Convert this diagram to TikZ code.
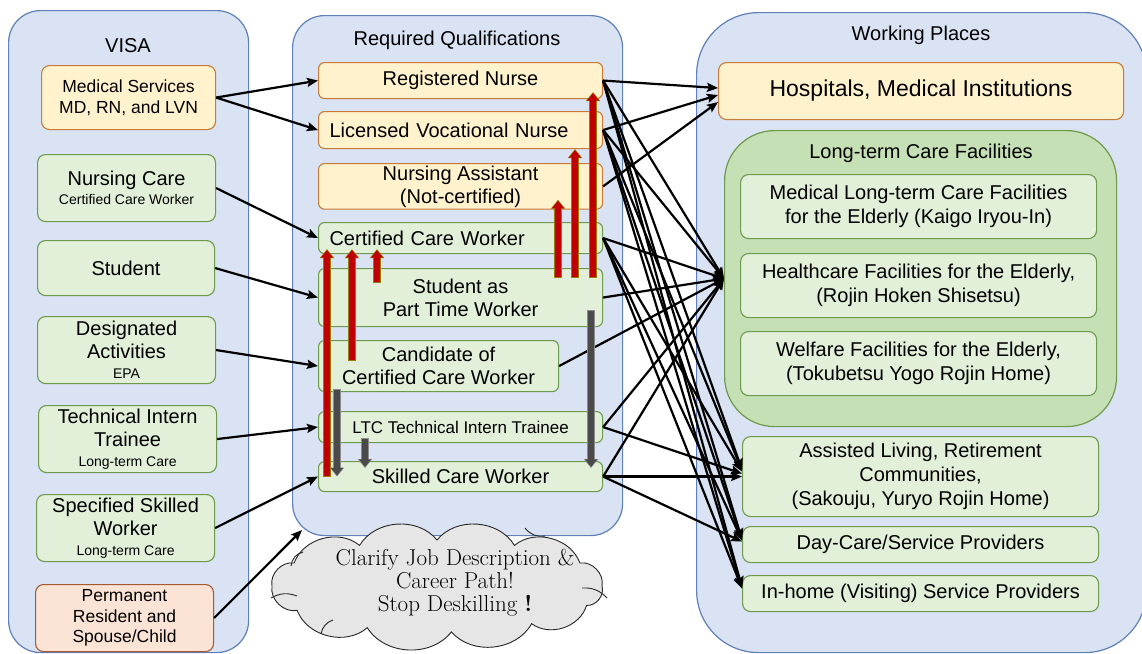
\documentclass[tikz,border=0pt]{standalone}
\usepackage{fontspec}
\newfontfamily\arial{Liberation Sans}
\usetikzlibrary{arrows.meta}

\definecolor{contfill}{HTML}{DAE3F3}
\definecolor{contline}{HTML}{5F80B8}
\definecolor{gfill}{HTML}{E2EFD9}
\definecolor{gline}{HTML}{6E9A4E}
\definecolor{ltcfill}{HTML}{C5E0B4}
\definecolor{ofill}{HTML}{FFF2CC}
\definecolor{oline}{HTML}{C97A36}
\definecolor{pfill}{HTML}{FBE4D5}
\definecolor{pline}{HTML}{A65A2E}
\definecolor{upred}{HTML}{C00000}
\definecolor{upedge}{HTML}{9C7C00}
\definecolor{downgray}{HTML}{4A4A4A}
\definecolor{downedge}{HTML}{8C8C8C}
\definecolor{cloudfill}{HTML}{E6E6E6}

\newcommand\smtxt{\fontsize{14}{16}\selectfont}
\newcommand\midtxt{\fontsize{17.5}{20.5}\selectfont}
% block arrows drawn as an edged band: outer colour first, fill colour on top
\newcommand\stepup[2]{\draw[upouter] #1 -- #2; \draw[upinner] #1 -- #2;}
\newcommand\stepdown[2]{\draw[dnouter] #1 -- #2; \draw[dninner] #1 -- #2;}

\begin{document}
\begin{tikzpicture}[x=1pt, y=-1pt,
  every node/.style={font=\arial\fontsize{20}{23}\selectfont},
  wh/.style 2 args={minimum width=#1pt, minimum height=#2pt},
  cont/.style={rectangle, rounded corners=32pt, fill=contfill, draw=contline,
    line width=1.2pt, anchor=north west, inner sep=0pt},
  box/.style={rectangle, rounded corners=8pt, line width=1.1pt, align=center,
    inner sep=2pt, anchor=north west},
  gbox/.style={box, fill=gfill, draw=gline},
  obox/.style={box, fill=ofill, draw=oline},
  pbox/.style={box, fill=pfill, draw=pline},
  title/.style={inner sep=0pt},
  link/.style={line width=2.2pt, -{Stealth[length=11pt,width=9pt,inset=2pt]}},
  upouter/.style={line width=7.5pt, draw=upedge, -{Triangle[length=9pt,width=14pt]}},
  upinner/.style={line width=5.5pt, draw=upred, shorten >=1.1pt, shorten <=1pt,
    -{Triangle[length=7.5pt,width=11.5pt]}},
  dnouter/.style={line width=7.5pt, draw=downedge, -{Triangle[length=9pt,width=14pt]}},
  dninner/.style={line width=5.5pt, draw=downgray, shorten >=1.1pt, shorten <=1pt,
    -{Triangle[length=7.5pt,width=11.5pt]}},
  cloudline/.style={fill=cloudfill, draw=black!85, line width=0.9pt},
  crease/.style={draw=black!85, line width=0.9pt},
]
\clip (0,0) rectangle (1142,653);

% ---------- column frames ----------
\node[cont, wh={240}{642}] (visa) at (8,10) {};
\node[cont, wh={330}{520}] (quals) at (292,15) {};
\node[cont, rounded corners=62pt, wh={450}{640}] (places) at (696,12) {};

\node[title] (visatitle) at (128,46) {VISA};
\node[title] (qualtitle) at (457,40) {Required Qualifications};
\node[title] (placetitle) at (921,35) {Working Places};

% ---------- visa categories ----------
\node[obox, wh={174}{64}, font=\arial\midtxt] (medical) at (41,65) {Medical Services\\MD, RN, and LVN};
\node[gbox, wh={178}{67}] (nursing) at (37,154) {Nursing Care\\[-4pt]{\smtxt Certified Care Worker}};
\node[gbox, wh={177}{55}] (student) at (37,240) {Student};
\node[gbox, wh={178}{67}] (desig) at (37,316) {Designated\\Activities\\[-3pt]{\smtxt EPA}};
\node[gbox, wh={178}{67}] (intern) at (38,405) {Technical Intern\\Trainee\\[-3pt]{\smtxt Long-term Care}};
\node[gbox, wh={178}{67}] (ssw) at (36,494) {Specified Skilled\\Worker\\[-3pt]{\smtxt Long-term Care}};
\node[pbox, wh={178}{67}, font=\arial\midtxt] (perm) at (35,584) {Permanent\\Resident and\\Spouse/Child};

% ---------- qualifications ----------
\node[obox, rounded corners=6pt, wh={284}{36}] (rn) at (318,62) {Registered Nurse};
\node[obox, rounded corners=6pt, wh={284}{37}, align=left, text width=262pt, inner xsep=11pt] (lvn) at (318,111) {Licensed Vocational Nurse};
\node[obox, rounded corners=6pt, wh={284}{44}] (na) at (318,163) {Nursing Assistant\\(Not-certified)};
\node[gbox, rounded corners=6pt, wh={284}{31}, align=left, text width=262pt, inner xsep=11pt] (ccw) at (318,222) {Certified Care Worker};
\node[gbox, rounded corners=6pt, wh={284}{58}] (sptw) at (318,268) {Student as\\Part Time Worker};
\node[gbox, rounded corners=6pt, wh={240}{51}] (cand) at (318,340) {Candidate of\\Certified Care Worker};
\node[gbox, rounded corners=6pt, wh={284}{31}, font=\arial\fontsize{17}{20}\selectfont] (tit) at (318,411) {LTC Technical Intern Trainee};
\node[gbox, rounded corners=6pt, wh={284}{30}] (skilled) at (318,461) {Skilled Care Worker};

% ---------- working places ----------
\node[obox, wh={405}{57}, font=\arial\fontsize{23}{26}\selectfont] (hosp) at (718,62) {Hospitals, Medical Institutions};
\node[cont, rounded corners=50pt, fill=ltcfill, draw=gline, wh={392}{296}] (ltc) at (724,130) {};
\node[title] (ltctitle) at (921,153) {Long-term Care Facilities};
\node[gbox, wh={356}{64}, font=\arial\fontsize{20}{24}\selectfont] (kaigo) at (740,174) {Medical Long-term Care Facilities\\for the Elderly (Kaigo Iryou-In)};
\node[gbox, wh={356}{64}, font=\arial\fontsize{20}{24}\selectfont] (roken) at (740,253) {Healthcare Facilities for the Elderly,\\(Rojin Hoken Shisetsu)};
\node[gbox, wh={356}{64}, font=\arial\fontsize{20}{24}\selectfont] (toku) at (740,331) {Welfare Facilities for the Elderly,\\(Tokubetsu Yogo Rojin Home)};
\node[gbox, wh={356}{80}, font=\arial\fontsize{20}{24}\selectfont] (assist) at (742,436) {Assisted Living, Retirement\\Communities,\\(Sakouju, Yuryo Rojin Home)};
\node[gbox, wh={356}{36}] (day) at (742,526) {Day-Care/Service Providers};
\node[gbox, wh={356}{36}] (inhome) at (742,575) {In-home (Visiting) Service Providers};

% ---------- visa -> qualification ----------
\draw[link] (medical.east) -- (rn.west);
\draw[link] (medical.east) -- (lvn.west);
\draw[link] (nursing.east) -- (ccw.west);
\draw[link] (student.east) -- (sptw.west);
\draw[link] (desig.east) -- (cand.west);
\draw[link] (intern.east) -- (tit.west);
\draw[link] (ssw.east) -- (skilled.west);

% ---------- qualification -> working place ----------
\draw[link] (rn.east) -- ([yshift=3pt]hosp.west);
\draw[link] (lvn.east) -- ([yshift=-4pt]hosp.west);
\draw[link] (na.east) -- ([yshift=-11pt]hosp.west);

\draw[link] (rn.east) -- (ltc.west);
\draw[link] (lvn.east) -- (ltc.west);
\draw[link] (ccw.east) -- (ltc.west);
\draw[link] (sptw.east) -- (ltc.west);
\draw[link] (cand.east) -- (ltc.west);
\draw[link] (tit.east) -- (ltc.west);
\draw[link] (skilled.east) -- (ltc.west);

\draw[link] (rn.east) -- ([yshift=7pt]assist.west);
\draw[link] (lvn.east) -- ([yshift=6pt]assist.west);
\draw[link] (ccw.east) -- ([yshift=5pt]assist.west);
\draw[link] (tit.east) -- ([yshift=3pt]assist.west);
\draw[link] (skilled.east) -- (assist.west);

\draw[link] (rn.east) -- ([yshift=5pt]day.west);
\draw[link] (lvn.east) -- ([yshift=4pt]day.west);
\draw[link] (ccw.east) -- ([yshift=4pt]day.west);
\draw[link] (skilled.east) -- ([yshift=3pt]day.west);

\draw[link] (rn.east) -- ([yshift=6pt]inhome.west);
\draw[link] (lvn.east) -- ([yshift=5pt]inhome.west);
\draw[link] (ccw.east) -- ([yshift=5pt]inhome.west);

% ---------- career steps up ----------
\stepup{([xshift=9pt]skilled.west)}{([xshift=9pt,yshift=5pt]ccw.south west)}
\stepup{([xshift=34pt,yshift=5pt]cand.west)}{([xshift=34pt,yshift=5pt]ccw.south west)}
\stepup{([xshift=59pt,yshift=-15pt]sptw.north west)}{([xshift=59pt,yshift=5pt]ccw.south west)}
\stepup{([xshift=240pt,yshift=-10pt]sptw.north west)}{([xshift=240pt,yshift=10pt]na.south west)}
\stepup{([xshift=257pt,yshift=-10pt]sptw.north west)}{([xshift=257pt]lvn.south west)}
\stepup{([xshift=275pt,yshift=-10pt]sptw.north west)}{([xshift=275pt,yshift=7pt]rn.south west)}

% ---------- deskilling steps down ----------
\stepdown{([xshift=19pt,yshift=3pt]cand.south west)}{([xshift=19pt]skilled.west)}
\stepdown{([xshift=47pt,yshift=5pt]tit.south west)}{([xshift=47pt,yshift=-7pt]skilled.north west)}
\stepdown{([xshift=273pt,yshift=17pt]sptw.south west)}{([xshift=273pt,yshift=-7pt]skilled.north west)}

% ---------- call-out cloud ----------
\begin{scope}[shift={(437,586)}, y=1pt]
  \draw[cloudline] (0:165 and 46)
    \foreach \a in {30,62,90,118,150,180,212,245,275,305,335,360} { to[bend right=55] (\a:165 and 46) } -- cycle;
  % inner puff creases
  \draw[crease] (-146,20) to[bend left=35] (-134,34);
  \draw[crease] (-166,-12) to[bend left=25] (-140,-10);
  \draw[crease] (-116,-48) to[bend left=30] (-104,-34);
  \draw[crease] (145,-2) to[bend left=25] (170,-12);
  \draw[crease] (88,58) to[bend right=30] (108,50);
\end{scope}
\node[align=center, inner sep=0pt, font=\rmfamily\fontsize{23}{23}\selectfont] (cloudtext) at (455,583)
  {Clarify Job Description \&\\Career Path!\\Stop Deskilling {\bfseries !}};

\coordinate (permtip) at (302,530);
\draw[link] (perm.east) -- (permtip);
\end{tikzpicture}
\end{document}
